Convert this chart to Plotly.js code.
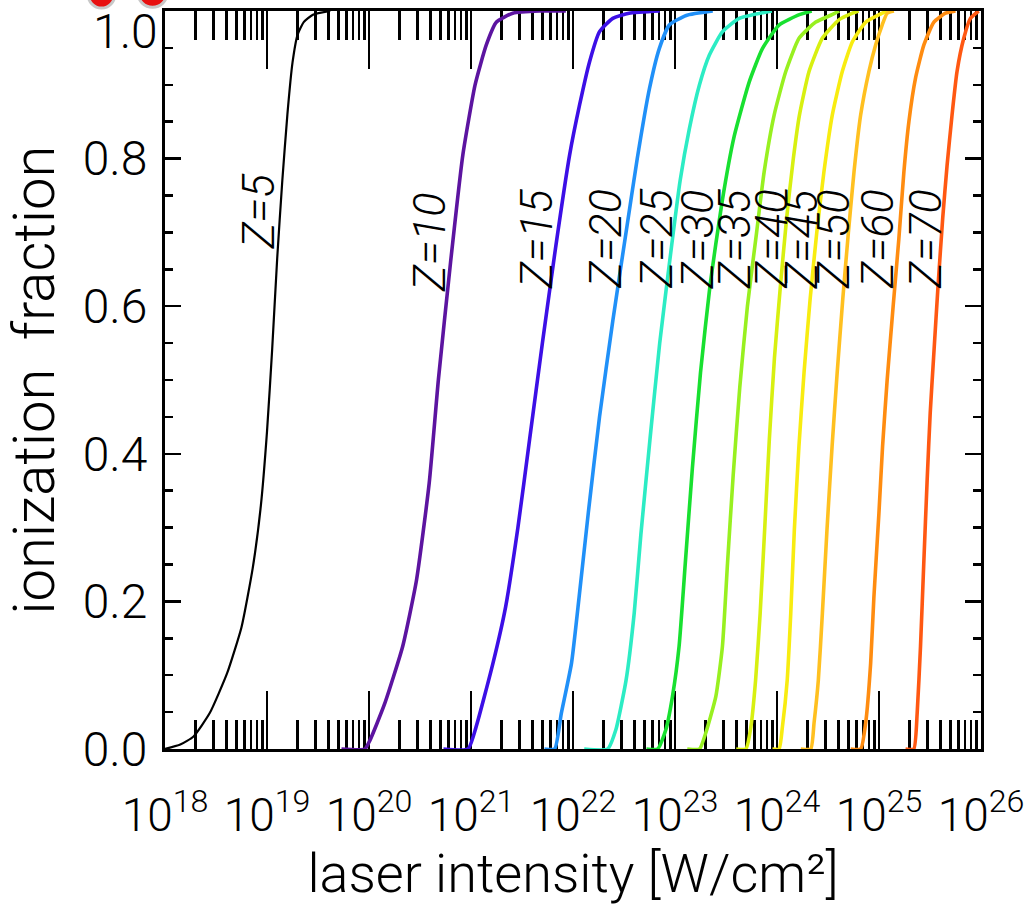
<!DOCTYPE html>
<html><head><meta charset="utf-8">
<script src="https://cdn.plot.ly/plotly-3.0.1.min.js"></script>
<style>html,body{margin:0;padding:0;background:#fff}#chart{width:1029px;height:912px}</style>
</head><body><div id="chart"></div>
<script>
const FONT = 'Roboto, "Liberation Sans", Arial, sans-serif';
const WEIGHT = 300;

// Atomic number labels and colours
const zLabels = [5, 10, 15, 20, 25, 30, 35, 40, 45, 50, 60, 70];
const zColors = ['#000000', '#5c14a0', '#3c0fe6', '#2090f8', '#2cecc4', '#18e030',
                 '#98f020', '#d8f010', '#f8ec10', '#ffc020', '#ff8c10', '#ff5812'];

// log10(laser intensity [W/cm^2]) and ionization fraction, per Z
const logI_Z5  = [18.00,18.15,18.28,18.44,18.61,18.75,18.86,18.94,19.00,19.05,19.10,19.15,19.20,19.25,19.30,19.36,19.45,19.62];
const frac_Z5  = [0,0.006,0.017,0.049,0.103,0.165,0.245,0.33,0.43,0.54,0.665,0.77,0.86,0.93,0.968,0.985,0.995,1.0];

const logI_Z10 = [19.73,19.96,20.01,20.15,20.33,20.466,20.59,20.68,20.80,20.92,21.04,21.15,21.25,21.41,21.67,21.93];
const frac_Z10 = [0,0,0.012,0.06,0.139,0.229,0.36,0.5,0.66,0.805,0.9,0.954,0.985,0.997,1.0,1.0];

const logI_Z15 = [20.73,20.97,21.05,21.215,21.34,21.46,21.575,21.70,21.83,21.967,22.065,22.162,22.26,22.39,22.55,22.85];
const frac_Z15 = [0,0,0.03,0.116,0.193,0.3,0.42,0.55,0.68,0.805,0.873,0.931,0.972,0.99,0.997,1.0];

const logI_Z20 = [21.72,21.82,21.885,21.985,22.06,22.15,22.26,22.39,22.52,22.63,22.75,22.846,22.944,23.11,23.37];
const frac_Z20 = [0,0,0.048,0.116,0.206,0.32,0.45,0.58,0.70,0.80,0.895,0.949,0.981,0.994,1.0];

const logI_Z25 = [22.11,22.34,22.42,22.52,22.60,22.665,22.755,22.85,22.965,23.05,23.14,23.24,23.336,23.466,23.63,23.95];
const frac_Z25 = [0,0,0.026,0.093,0.184,0.29,0.42,0.55,0.68,0.77,0.84,0.9,0.94,0.972,0.99,1.0];

const logI_Z30 = [22.72,22.83,22.91,22.975,23.04,23.10,23.17,23.25,23.345,23.46,23.58,23.728,23.857,24.02,24.22,24.34];
const frac_Z30 = [0,0,0.026,0.071,0.139,0.25,0.38,0.51,0.63,0.74,0.83,0.904,0.949,0.981,0.995,1.0];

const logI_Z35 = [23.12,23.24,23.30,23.40,23.465,23.515,23.57,23.635,23.71,23.80,23.874,23.972,24.086,24.216,24.38,24.54,24.61];
const frac_Z35 = [0,0,0.021,0.071,0.139,0.252,0.37,0.49,0.60,0.70,0.782,0.859,0.918,0.963,0.985,0.995,1.0];

const logI_Z40 = [23.60,23.695,23.744,23.79,23.835,23.88,23.925,23.975,24.035,24.095,24.16,24.22,24.314,24.444,24.607,24.74,24.80];
const frac_Z40 = [0,0,0.03,0.093,0.184,0.30,0.42,0.53,0.63,0.72,0.80,0.859,0.918,0.963,0.988,0.997,1.0];

const logI_Z45 = [23.955,24.02,24.053,24.10,24.135,24.17,24.215,24.265,24.325,24.39,24.46,24.542,24.64,24.738,24.87,25.00,25.08];
const frac_Z45 = [0,0,0.03,0.093,0.184,0.297,0.41,0.51,0.61,0.70,0.782,0.859,0.918,0.958,0.985,0.995,1.0];

const logI_Z50 = [24.233,24.331,24.363,24.405,24.445,24.49,24.54,24.59,24.645,24.70,24.755,24.82,24.901,24.967,25.031,25.08,25.146];
const frac_Z50 = [0,0,0.035,0.093,0.184,0.297,0.41,0.51,0.61,0.70,0.782,0.859,0.918,0.954,0.981,0.997,1.0];

const logI_Z60 = [24.722,24.82,24.869,24.918,24.95,24.999,25.035,25.08,25.14,25.195,25.244,25.293,25.358,25.44,25.538,25.652,25.75];
const frac_Z60 = [0,0,0.035,0.116,0.206,0.319,0.41,0.5,0.602,0.692,0.782,0.85,0.909,0.954,0.985,0.997,1.0];

const logI_Z70 = [25.26,25.341,25.374,25.407,25.439,25.472,25.502,25.535,25.58,25.625,25.667,25.716,25.765,25.831,25.896,25.977];
const frac_Z70 = [0,0,0.048,0.139,0.252,0.364,0.455,0.53,0.63,0.72,0.79,0.859,0.918,0.963,0.99,1.0];

// Curve label placement (log10 intensity, fraction)
const labelLogI = [18.92, 20.60, 21.64, 22.31, 22.81, 23.22, 23.58, 23.94, 24.24, 24.55, 24.98, 25.45];
const labelFrac = [0.728, 0.687, 0.691, 0.691, 0.691, 0.691, 0.691, 0.691, 0.691, 0.691, 0.691, 0.691];

// Axis ticks
const xTickExp = [18, 19, 20, 21, 22, 23, 24, 25, 26];
const xTickText = xTickExp.map(e => '10<sup>' + e + '</sup>');
const yTickVals = [0, 0.2, 0.4, 0.6, 0.8, 1.0];
const yTickText = ['0.0', '0.2', '0.4', '0.6', '0.8', ''];
const yTopLabel = '1.0';

const allLogI = [logI_Z5, logI_Z10, logI_Z15, logI_Z20, logI_Z25, logI_Z30, logI_Z35, logI_Z40, logI_Z45, logI_Z50, logI_Z60, logI_Z70];
const allFrac = [frac_Z5, frac_Z10, frac_Z15, frac_Z20, frac_Z25, frac_Z30, frac_Z35, frac_Z40, frac_Z45, frac_Z50, frac_Z60, frac_Z70];

const traces = zLabels.map((z, i) => ({
  type: 'scatter', mode: 'lines', name: 'Z=' + z,
  x: allLogI[i].map(v => Math.pow(10, v)),
  y: allFrac[i],
  line: {color: zColors[i], width: i === 0 ? 2.2 : 3.6, shape: 'spline', smoothing: 0.5},
  hoverinfo: 'x+y+name'
}));

const minorVals = [];
for (let k = 0; k < xTickExp.length - 1; k++) {
  for (let m = 2; m <= 9; m++) minorVals.push(m * Math.pow(10, xTickExp[k]));
}

const annotations = zLabels.map((z, i) => ({
  x: labelLogI[i], y: labelFrac[i], xref: 'x', yref: 'y',
  text: '<i>Z=' + z + '</i>', showarrow: false, textangle: -90,
  font: {family: FONT, size: 45, color: '#000', weight: WEIGHT},
  xanchor: 'center', yanchor: 'middle'
}));
annotations.push({
  x: 0, xref: 'paper', xanchor: 'right', xshift: -5,
  y: 1, yref: 'y', yanchor: 'top', yshift: 10,
  text: yTopLabel, showarrow: false,
  font: {family: FONT, size: 48, color: '#000', weight: WEIGHT}
});

// decorative red dots cut off at the top-left edge of the picture
const shapes = [
  {type: 'circle', xref: 'paper', yref: 'paper', x0: -0.0944, x1: -0.0613, y0: 1.004, y1: 1.042,
   fillcolor: '#e81010', line: {color: '#c8c8c8', width: 3}},
  {type: 'circle', xref: 'paper', yref: 'paper', x0: -0.0331, x1: 0.0025, y0: 1.005, y1: 1.044,
   fillcolor: '#e81010', line: {color: '#c8c8c8', width: 3}}
];

const layout = {
  width: 1029, height: 912,
  margin: {l: 165, r: 48, t: 11, b: 163, pad: 0},
  paper_bgcolor: '#fff', plot_bgcolor: '#fff',
  showlegend: false,
  font: {family: FONT, color: '#000', weight: WEIGHT},
  xaxis: {
    type: 'log', range: [18, 26], autorange: false,
    tickmode: 'array', tickvals: xTickExp.map(e => Math.pow(10, e)), ticktext: xTickText,
    ticks: 'inside', ticklen: 58, tickwidth: 2.5, tickcolor: '#000',
    minor: {tickmode: 'array', tickvals: minorVals, ticks: 'inside', ticklen: 29, tickwidth: 2.5, tickcolor: '#000', showgrid: false},
    showline: true, linewidth: 3, linecolor: '#000', mirror: 'allticks',
    showgrid: false, zeroline: false, layer: 'below traces',
    tickfont: {family: FONT, size: 46, color: '#000', weight: WEIGHT},
    ticklabelstandoff: 24,
    title: {text: 'laser intensity [W/cm²]', font: {family: FONT, size: 54, color: '#000', weight: WEIGHT}, standoff: 6}
  },
  yaxis: {
    range: [0, 1], autorange: false,
    tickmode: 'array', tickvals: yTickVals, ticktext: yTickText,
    ticks: 'inside', ticklen: 16, tickwidth: 2.5, tickcolor: '#000',
    minor: {dtick: 0.05, ticks: 'inside', ticklen: 8, tickwidth: 2.5, tickcolor: '#000', showgrid: false},
    showline: true, linewidth: 3, linecolor: '#000', mirror: 'allticks',
    showgrid: false, zeroline: false, layer: 'below traces',
    tickfont: {family: FONT, size: 48, color: '#000', weight: WEIGHT},
    ticklabelstandoff: 5,
    title: {text: 'ionization  fraction', font: {family: FONT, size: 58, color: '#000', weight: WEIGHT}, standoff: 27}
  },
  annotations: annotations,
  shapes: shapes
};

Plotly.newPlot('chart', traces, layout, {displayModeBar: false, staticPlot: true});
</script></body></html>
